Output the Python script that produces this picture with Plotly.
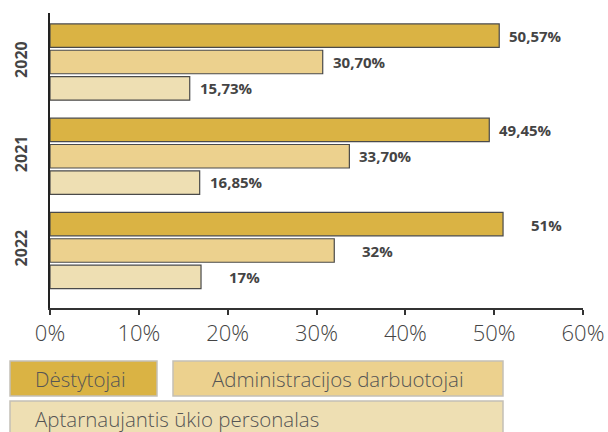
import plotly.graph_objects as go

years = ["2020", "2021", "2022"]
series_names = ["Dėstytojai", "Administracijos darbuotojai", "Aptarnaujantis ūkio personalas"]
destytojai = [50.57, 49.45, 51]
administracija = [30.70, 33.70, 32]
aptarnaujantis = [15.73, 16.85, 17]
labels_destytojai = ["50,57%", "49,45%", "51%"]
labels_administracija = ["30,70%", "33,70%", "32%"]
labels_aptarnaujantis = ["15,73%", "16,85%", "17%"]
x_ticks = [0, 10, 20, 30, 40, 50, 60]
x_tick_labels = ["0%", "10%", "20%", "30%", "40%", "50%", "60%"]

colors = ["#DAB344", "#ECD18E", "#EEDFB3"]
values = [destytojai, administracija, aptarnaujantis]
labels = [labels_destytojai, labels_administracija, labels_aptarnaujantis]

W, H = 608, 432
L, R, T, B = 50, 25, 13, 124
pw, ph = W - L - R, H - T - B

fig = go.Figure()
for name, vals, col in zip(series_names, values, colors):
    fig.add_trace(go.Bar(
        y=years, x=vals, name=name, orientation="h",
        marker=dict(color=col, line=dict(color="#4a4a4a", width=1.2)),
        showlegend=False, hoverinfo="skip",
    ))

# value labels
yshift_by_series = [26, 0, -26]
xshift_by_year = [8, 8, 26]
for si, (vals, labs) in enumerate(zip(values, labels)):
    for yi, (v, lab) in enumerate(zip(vals, labs)):
        fig.add_annotation(
            x=v, y=yi, xref="x", yref="y", text=lab, showarrow=False,
            xanchor="left", yanchor="middle",
            xshift=xshift_by_year[yi], yshift=yshift_by_series[si],
            font=dict(family="Open Sans", size=15, color="#444444", weight="bold"),
        )

def px_x(p):
    return (p - L) / pw

def px_y(p):
    return (T + ph - p) / ph

# custom legend boxes
boxes = [
    (10, 157, 361, 396, colors[0], series_names[0], "left", 33),
    (173, 503, 361, 396, colors[1], series_names[1], "center", None),
    (10, 503, 401, 445, colors[2], series_names[2], "left", 33),
]
for x0, x1, y0, y1, col, txt, align, tx in boxes:
    fig.add_shape(type="rect", xref="paper", yref="paper",
                  x0=px_x(x0), x1=px_x(x1), y0=px_y(y1), y1=px_y(y0),
                  fillcolor=col, line=dict(color="#c4c0b6", width=1.5), layer="above")
    if align == "center":
        ax, anchor = px_x((x0 + x1) / 2), "center"
    else:
        ax, anchor = px_x(tx), "left"
    fig.add_annotation(xref="paper", yref="paper", x=ax, y=px_y(379 if y0 < 400 else 419),
                       text=txt, showarrow=False, xanchor=anchor, yanchor="middle",
                       font=dict(family="Open Sans", size=20.5, color="#555555", weight=300))

fig.update_layout(
    width=W, height=H,
    margin=dict(l=L, r=R, t=T, b=B),
    paper_bgcolor="white", plot_bgcolor="white",
    barmode="group", bargap=0.16, bargroupgap=0.11,
    xaxis=dict(range=[0, 60], tickvals=x_ticks, ticktext=x_tick_labels, automargin=False,
               showgrid=False, zeroline=False, showline=True, linecolor="#333333", linewidth=1.5,
               ticks="outside", ticklen=5, tickcolor="#333333", tickwidth=1.5,
               tickfont=dict(family="Open Sans", size=22, color="#444444", weight=300),
               fixedrange=True),
    yaxis=dict(type="category", categoryorder="array", categoryarray=years,
               range=[2.61, -0.52], autorange=False, automargin=False,
               showgrid=False, zeroline=False, showline=True, linecolor="#222222", linewidth=1.5,
               ticks="", tickangle=-90, ticklabelstandoff=15,
               tickfont=dict(family="Open Sans", size=16, color="#444444", weight="bold"),
               fixedrange=True),
)

fig.write_html("out.html")
